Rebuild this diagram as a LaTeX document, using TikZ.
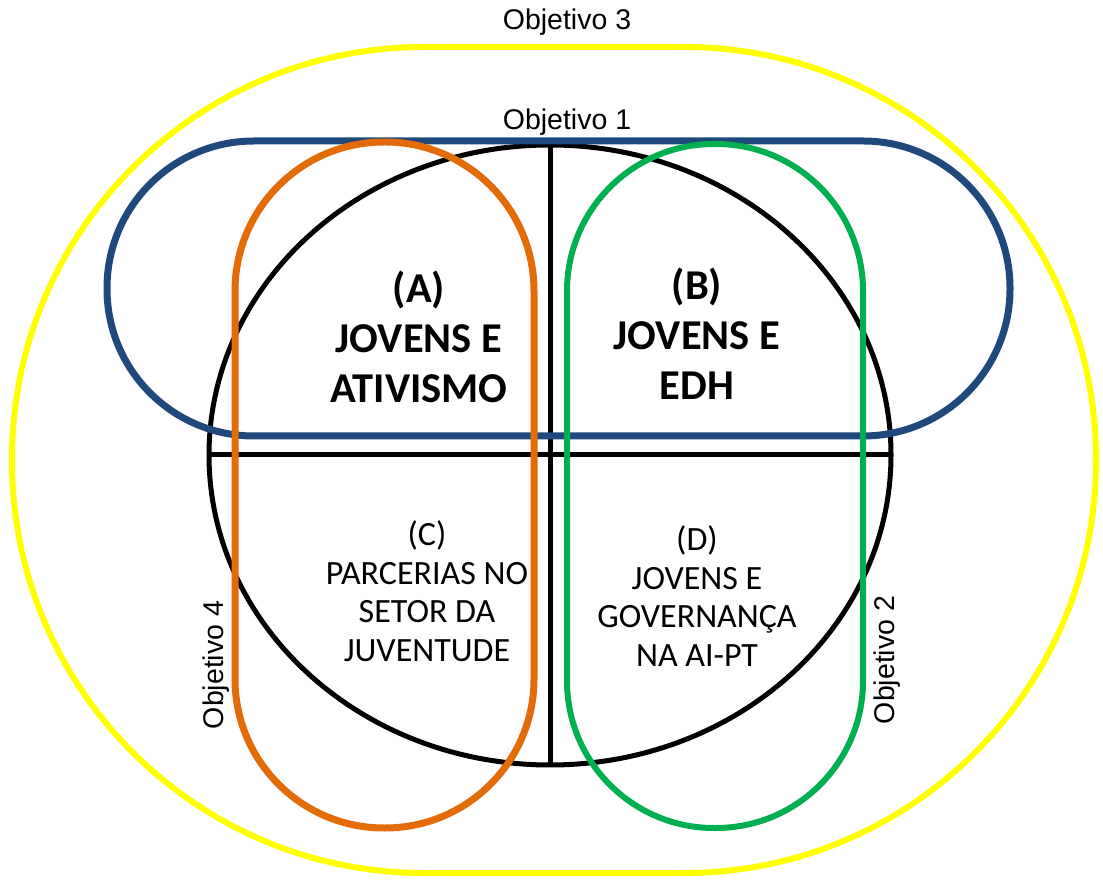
\documentclass[tikz,border=0pt]{standalone}
\usepackage{fontspec}
\setmainfont{Carlito}
\newfontfamily\objfont{Liberation Sans}
\usetikzlibrary{positioning}

\definecolor{objyellow}{HTML}{FFFF00}
\definecolor{objblue}{HTML}{1F497D}
\definecolor{objorange}{HTML}{E36C09}
\definecolor{objgreen}{HTML}{00B050}

\begin{document}
\begin{tikzpicture}[
        x=1pt,y=1pt,
        ring/.style={line width=#1},
        ring/.default=6,
        objlabel/.style={font=\objfont\fontsize{28.5}{32}\selectfont},
        areatitle/.style={align=center,font=\fontsize{42.5}{50}\selectfont\bfseries},
        areatext/.style={align=center,font=\fontsize{34}{38.5}\selectfont}
      ]
      \useasboundingbox (0,0) rectangle (1103,881);

      % Objetivo 3 (contorno exterior)
      \draw[ring=6,objyellow,rounded corners=412] (12,8) rectangle (1096,834);
      \node[objlabel] (obj3) at (567,859) {Objetivo 3};

      % circulo central e quadrantes
      \coordinate (centro) at (550,426);
      \draw[line width=5] (centro) ellipse [x radius=341,y radius=310];
      \coordinate (topo) at (550,736);
      \coordinate (base) at (550,116);
      \coordinate (esq) at (209,426);
      \coordinate (dir) at (891,426);
      \draw[line width=5] (topo) -- (base);
      \draw[line width=5] (esq) -- (dir);

      % Objetivo 1
      \draw[ring=7,objblue,rounded corners=147] (107,445) rectangle (1010,740);
      \node[objlabel] (obj1) at (567,759) {Objetivo 1};

      % Objetivo 4
      \draw[ring=7,objorange,rounded corners=149] (235,53) rectangle (534,739);
      \node[objlabel,rotate=90] (obj4) at (216,216) {Objetivo 4};

      % Objetivo 2
      \draw[ring=6,objgreen,rounded corners=147] (567,53) rectangle (863,737);
      \node[objlabel,rotate=90] (obj2) at (887,221) {Objetivo 2};

      % textos dos quadrantes
      \node[areatitle] (areaA) at (419,544) {(A)\\JOVENS E\\ATIVISMO};
      \node[areatitle] (areaB) at (697,547) {(B)\\JOVENS E\\EDH};
      \node[areatext] (areaC) at (427,290) {(C)\\PARCERIAS NO\\SETOR DA\\JUVENTUDE};
      \node[areatext] (areaD) at (697,285) {(D)\\JOVENS E\\GOVERNANÇA\\NA AI-PT};

    \end{tikzpicture}
\end{document}
